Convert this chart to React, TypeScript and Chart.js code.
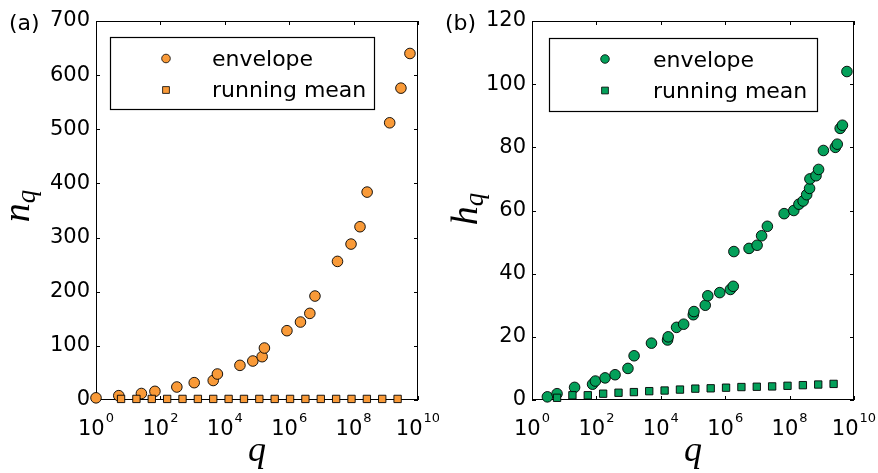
import { useEffect, useRef } from "react";
import { Chart, registerables } from "chart.js";
Chart.register(...registerables);

// ---------------- data ----------------
// running-mean sample points (same q grid in both panels)
const runningQ = [6, 18, 54, 162, 486, 1458, 4374, 13122, 39366, 118098, 354294, 1062882, 3188646, 9565938, 28697814, 86093442, 258280326, 774840978, 2324522934];

// panel (a): n_q
const envelopeQA = [1, 5.1, 25.7, 67.6, 324, 1122, 4365, 5888, 29512, 74131, 144544, 169824, 851138, 2.24e6, 4.37e6, 6.31e6, 3.16e7, 8.32e7, 1.58e8, 2.63e8, 1.32e9, 2.95e9, 5.62e9];
const envelopeNA = [4, 8, 12, 16, 24, 32, 36, 48, 64, 72, 80, 96, 128, 144, 160, 192, 256, 288, 320, 384, 512, 576, 640];
const runningNA = [2, 2, 2, 2, 2, 2, 2, 2, 2, 2, 2, 2, 2, 2, 2, 2, 2, 2, 2];

// panel (b): h_q
const envelopeQB = [3, 6, 21, 76, 93, 186, 380, 955, 1480, 5130, 16200, 17000, 30900, 51300, 102000, 107000, 240000, 288000, 676000, 1.45e6, 1.78e6, 1.86e6, 5.5e6, 9.8e6, 1.35e7, 2.04e7, 6.76e7, 1.35e8, 1.95e8, 2.63e8, 3.39e8, 4.17e8, 4.27e8, 6.61e8, 7.94e8, 1.12e9, 2.63e9, 3.02e9, 3.72e9, 4.37e9, 6.03e9];
const envelopeHB = [1, 2, 4, 5, 6, 7, 8, 10, 14, 18, 19, 20, 23, 24, 27, 28, 30, 33, 34, 35, 36, 47, 48, 49, 52, 55, 59, 60, 62, 63, 65, 67, 70, 71, 73, 79, 80, 81, 86, 87, 104];
const runningHB = [0.7, 1.5, 1.5, 2.0, 2.3, 2.5, 2.8, 3.0, 3.3, 3.6, 3.7, 3.9, 4.1, 4.2, 4.3, 4.5, 4.7, 4.9, 5.1];

const xTickExponents = [0, 2, 4, 6, 8, 10];
const legendLabels = ["envelope", "running mean"];
const panelTags = ["(a)", "(b)"];
const xTitle = "q";

const SANS = '"DejaVu Sans", sans-serif';
const SERIF = '"Liberation Serif", "DejaVu Serif", serif';

type Panel = {
  tag: string;
  color: string;
  yMax: number;
  yStep: number;
  axisWidth: number;
  padRight: number;
  envQ: number[];
  envV: number[];
  runQ: number[];
  runV: number[];
  yMain: string;
  ySub: string;
  yLabelX: number;
  yLabelY: number;
  tagX: number;
  legendBox: [number, number, number, number];
  markerX: number;
  textX: number;
  markerY: [number, number];
  textY: [number, number];
};

const panels: Panel[] = [
  {
    tag: panelTags[0],
    color: "#F99A38",
    yMax: 700,
    yStep: 100,
    axisWidth: 96,
    padRight: 21,
    envQ: envelopeQA,
    envV: envelopeNA,
    runQ: runningQ,
    runV: runningNA,
    yMain: "n",
    ySub: "q",
    yLabelX: 28.5,
    yLabelY: 206,
    tagX: 9,
    legendBox: [110, 37, 374, 109],
    markerX: 166,
    textX: 212,
    markerY: [58.5, 90],
    textY: [66, 97],
  },
  {
    tag: panelTags[1],
    color: "#04A05A",
    yMax: 120,
    yStep: 20,
    axisWidth: 93,
    padRight: 24,
    envQ: envelopeQB,
    envV: envelopeHB,
    runQ: runningQ,
    runV: runningHB,
    yMain: "h",
    ySub: "q",
    yLabelX: 38,
    yLabelY: 209,
    tagX: 6,
    legendBox: [110, 38, 378, 111],
    markerX: 166,
    textX: 214,
    markerY: [59, 90.5],
    textY: [67, 98],
  },
];

function makePlugin(p: Panel) {
  return {
    id: "decor",
    beforeDatasetsDraw(chart: any) {
      const ctx = chart.ctx as CanvasRenderingContext2D;
      const a = chart.chartArea;
      const xs = chart.scales.x;
      const ys = chart.scales.y;
      ctx.save();
      ctx.strokeStyle = "#000";
      ctx.lineWidth = 1;
      ctx.strokeRect(a.left + 0.5, a.top + 0.5, a.right - a.left - 1, a.bottom - a.top - 1);
      ctx.beginPath();
      for (const e of xTickExponents) {
        const x = Math.round(xs.getPixelForValue(Math.pow(10, e))) + 0.5;
        ctx.moveTo(x, a.bottom);
        ctx.lineTo(x, a.bottom - 4);
        ctx.moveTo(x, a.top);
        ctx.lineTo(x, a.top + 4);
      }
      for (const t of ys.ticks) {
        const y = Math.round(ys.getPixelForValue(t.value)) + 0.5;
        ctx.moveTo(a.left, y);
        ctx.lineTo(a.left + 4, y);
        ctx.moveTo(a.right, y);
        ctx.lineTo(a.right - 4, y);
      }
      ctx.stroke();
      ctx.restore();
    },
    afterDraw(chart: any) {
      const ctx = chart.ctx as CanvasRenderingContext2D;
      const a = chart.chartArea;
      const xs = chart.scales.x;
      ctx.save();
      ctx.fillStyle = "#000";
      ctx.textBaseline = "alphabetic";
      ctx.textAlign = "left";
      // x tick labels 10^e
      for (const e of xTickExponents) {
        const x = xs.getPixelForValue(Math.pow(10, e));
        ctx.font = `21px ${SANS}`;
        const wm = ctx.measureText("10").width;
        ctx.font = `13px ${SANS}`;
        const ws = ctx.measureText(String(e)).width;
        const start = x - (wm + 1 + ws) / 2;
        ctx.font = `21px ${SANS}`;
        ctx.fillText("10", start, 435);
        ctx.font = `13px ${SANS}`;
        ctx.fillText(String(e), start + wm + 1, 422);
      }
      // x title
      ctx.font = `italic 36px ${SERIF}`;
      ctx.textAlign = "center";
      ctx.fillText(xTitle, (a.left + a.right) / 2, 461);
      // y title with subscript (rotated)
      ctx.save();
      ctx.translate(p.yLabelX, p.yLabelY);
      ctx.rotate(-Math.PI / 2);
      ctx.textAlign = "left";
      ctx.font = `italic 38px ${SERIF}`;
      const wMain = ctx.measureText(p.yMain).width;
      ctx.font = `italic 27px ${SERIF}`;
      const wSub = ctx.measureText(p.ySub).width;
      const s0 = -(wMain + wSub) / 2;
      ctx.font = `italic 38px ${SERIF}`;
      ctx.fillText(p.yMain, s0, 0);
      ctx.font = `italic 27px ${SERIF}`;
      ctx.fillText(p.ySub, s0 + wMain, 6);
      ctx.restore();
      // panel tag
      ctx.textAlign = "left";
      ctx.font = `22px ${SANS}`;
      ctx.fillText(p.tag, p.tagX, 30);
      // legend
      const [bx0, by0, bx1, by1] = p.legendBox;
      ctx.fillStyle = "#fff";
      ctx.fillRect(bx0, by0, bx1 - bx0, by1 - by0);
      ctx.strokeStyle = "#000";
      ctx.lineWidth = 1.2;
      ctx.strokeRect(bx0 + 0.5, by0 + 0.5, bx1 - bx0, by1 - by0);
      ctx.lineWidth = 0.8;
      ctx.fillStyle = p.color;
      ctx.beginPath();
      ctx.arc(p.markerX, p.markerY[0], 4.3, 0, Math.PI * 2);
      ctx.fill();
      ctx.stroke();
      ctx.beginPath();
      ctx.rect(p.markerX - 3.4, p.markerY[1] - 3.4, 6.8, 6.8);
      ctx.fill();
      ctx.stroke();
      ctx.fillStyle = "#000";
      ctx.font = `22px ${SANS}`;
      ctx.fillText(legendLabels[0], p.textX, p.textY[0]);
      ctx.fillText(legendLabels[1], p.textX, p.textY[1]);
      ctx.restore();
    },
  };
}

function makeConfig(p: Panel): any {
  return {
    type: "scatter",
    data: {
      datasets: [
        {
          label: legendLabels[0],
          data: p.envQ.map((q, i) => ({ x: q, y: p.envV[i] })),
          pointStyle: "circle",
          pointRadius: 5.3,
          backgroundColor: p.color,
          borderColor: "#000",
          borderWidth: 0.9,
          order: 1,
          clip: false,
        },
        {
          label: legendLabels[1],
          data: p.runQ.map((q, i) => ({ x: q, y: p.runV[i] })),
          pointStyle: "rect",
          pointRadius: 5.2,
          backgroundColor: p.color,
          borderColor: "#000",
          borderWidth: 0.9,
          order: 0,
          clip: false,
        },
      ],
    },
    options: {
      animation: false,
      responsive: false,
      devicePixelRatio: 1,
      events: [],
      layout: { padding: { left: 0, right: p.padRight, top: 21, bottom: 73 } },
      plugins: { legend: { display: false }, tooltip: { enabled: false } },
      scales: {
        x: { type: "logarithmic", min: 1, max: 1e10, display: false },
        y: {
          type: "linear",
          min: 0,
          max: p.yMax,
          grid: { display: false, drawTicks: false },
          border: { display: false },
          ticks: {
            stepSize: p.yStep,
            color: "#000",
            padding: 6,
            font: { family: SANS, size: 21 },
          },
          afterFit: (s: any) => {
            s.width = p.axisWidth;
          },
        },
      },
    },
    plugins: [makePlugin(p)],
  };
}

function Panel({ p, left }: { p: Panel; left: number }) {
  const ref = useRef<HTMLCanvasElement | null>(null);
  useEffect(() => {
    if (!ref.current) return;
    const chart = new Chart(ref.current, makeConfig(p));
    return () => chart.destroy();
  }, [p]);
  return (
    <canvas
      ref={ref}
      width={439}
      height={473}
      style={{ position: "absolute", left, top: 0, width: 439, height: 473 }}
    />
  );
}

export default function App() {
  return (
    <div style={{ position: "absolute", left: 0, top: 0, width: 878, height: 473, background: "#fff", overflow: "hidden" }}>
      <Panel p={panels[0]} left={0} />
      <Panel p={panels[1]} left={439} />
    </div>
  );
}
